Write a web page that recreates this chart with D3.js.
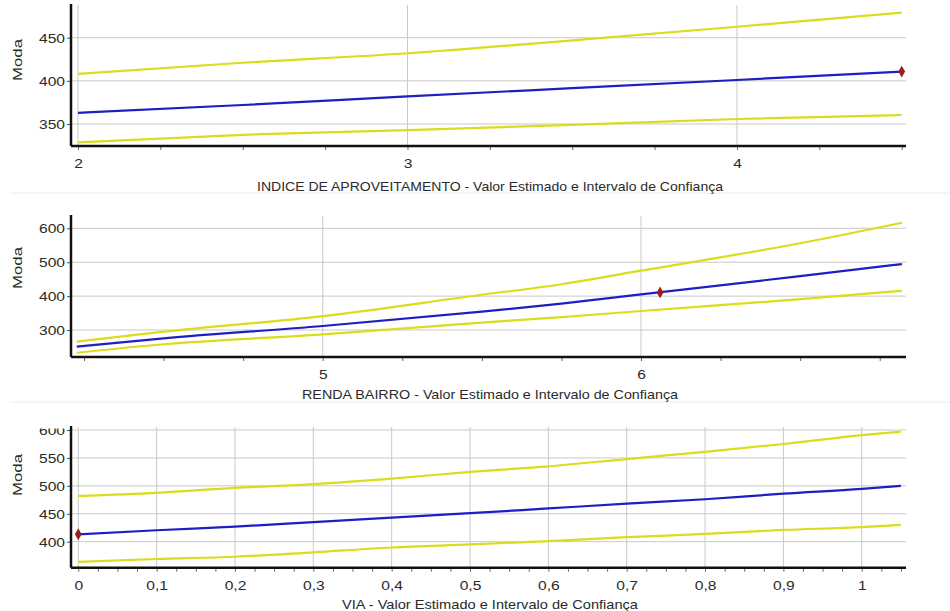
<!DOCTYPE html>
<html>
<head>
<meta charset="utf-8">
<script src="https://cdn.jsdelivr.net/npm/d3@7"></script>
<style>
  body { margin: 0; background: #fff; }
  svg { display: block; font-family: "Liberation Sans", Arial, sans-serif; }
  .tick text { fill: #2a2a2a; font-size: 13px; }
  .title { fill: #2a2a2a; font-size: 13.5px; }
</style>
</head>
<body>
<script>
'use strict';

// Panel 1 - INDICE DE APROVEITAMENTO
const iaX = [2, 2.5, 3, 3.5, 4, 4.5];
const iaEst = [363, 372, 382, 391.5, 401, 410.7];
const iaUpper = [408, 421, 432, 447, 462.7, 479];
const iaLower = [328.8, 337.5, 343, 349, 355.8, 360.4];
const iaPoint = [4.5, 410.7];
const iaYTicks = [350, 400, 450];
const iaXTicks = [2, 3, 4];

// Panel 2 - RENDA BAIRRO
const rbX = [4.227, 4.5, 5, 5.5, 5.75, 6, 6.5, 6.82];
const rbEst = [250.8, 275.5, 311.8, 354, 378, 405, 459, 494.5];
const rbUpper = [265.5, 295, 341, 404, 435, 475, 556, 616.5];
const rbLower = [233, 258, 287, 322, 338, 356, 391, 415.6];
const rbPoint = [6.06, 411];
const rbYTicks = [300, 400, 500, 600];
const rbXTicks = [5, 6];

// Panel 3 - VIA
const viaX = [0, 0.1, 0.2, 0.3, 0.4, 0.5, 0.6, 0.7, 0.8, 0.9, 1, 1.05];
const viaEst = [413, 420.5, 427, 435, 443, 451, 459.5, 468, 476, 486, 494.6, 500];
const viaUpper = [482, 487.5, 496.4, 503, 513, 525, 535, 548, 561, 575, 591, 597];
const viaLower = [364, 369, 373, 381, 389.6, 395, 401, 408, 414, 421, 426, 430];
const viaPoint = [0, 413.3];
const viaYTicks = [400, 450, 500, 550, 600];
const viaXTicks = [0, 0.1, 0.2, 0.3, 0.4, 0.5, 0.6, 0.7, 0.8, 0.9, 1];

const panels = [
  {
    x: iaX, est: iaEst, upper: iaUpper, lower: iaLower, point: iaPoint,
    xDomain: [1.9788, 4.513], yDomain: [324.5, 487.9], top: 5, bottom: 146,
    yTicks: iaYTicks, xTicks: iaXTicks, minor: 0.25, fmt: d3.format('d'),
    title: 'INDICE DE APROVEITAMENTO - Valor Estimado e Intervalo de Confiança', titleLen: 466, titleY: 191, modaY: 60
  },
  {
    x: rbX, est: rbEst, upper: rbUpper, lower: rbLower, point: rbPoint,
    xDomain: [4.209, 6.8326], yDomain: [220.4, 636.3], top: 216, bottom: 357,
    yTicks: rbYTicks, xTicks: rbXTicks, minor: 0.25, fmt: d3.format('d'),
    title: 'RENDA BAIRRO - Valor Estimado e Intervalo de Confiança', titleLen: 376, titleY: 398.5, modaY: 268
  },
  {
    x: viaX, est: viaEst, upper: viaUpper, lower: viaLower, point: viaPoint,
    xDomain: [-0.0093, 1.0565], yDomain: [353.4, 605.4], top: 427, bottom: 567.7,
    yTicks: viaYTicks, xTicks: viaXTicks, minor: 0.025, fmt: d => String(d).replace('.', ','),
    title: 'VIA - Valor Estimado e Intervalo de Confiança', titleLen: 296, titleY: 608.5, modaY: 475
  }
];

const left = 71, right = 906, titleX = 490;
const width = 950, height = 611;

const svg = d3.select('body').append('svg')
  .attr('width', width)
  .attr('height', height);

// the original text is drawn a bit wider than the font
const stretch = (sel, k) => sel.each(function () {
  const len = this.getComputedTextLength();
  d3.select(this).attr('textLength', len * k).attr('lengthAdjust', 'spacingAndGlyphs');
});

// separators between panels
[193, 402].forEach(y => {
  svg.append('line')
    .attr('x1', 10).attr('x2', 950)
    .attr('y1', y).attr('y2', y)
    .attr('stroke', '#ececec');
});

panels.forEach((p, i) => {
  const x = d3.scaleLinear().domain(p.xDomain).range([left, right]);
  const y = d3.scaleLinear().domain(p.yDomain).range([p.bottom, p.top]);

  const g = svg.append('g');

  const clipId = 'clip' + i;
  svg.append('clipPath').attr('id', clipId)
    .append('rect')
    .attr('x', left).attr('y', p.top)
    .attr('width', right - left).attr('height', p.bottom - p.top);

  // grid
  g.append('g').selectAll('line')
    .data(p.yTicks).enter().append('line')
    .attr('x1', left).attr('x2', right)
    .attr('y1', d => y(d)).attr('y2', d => y(d))
    .attr('stroke', '#c9c9c9');
  g.append('g').selectAll('line')
    .data(p.xTicks).enter().append('line')
    .attr('x1', d => x(d)).attr('x2', d => x(d))
    .attr('y1', p.top).attr('y2', p.bottom)
    .attr('stroke', '#c9c9c9');

  // series
  const line = d3.line()
    .x((d, j) => x(p.x[j]))
    .y(d => y(d))
    .curve(d3.curveMonotoneX);

  const series = g.append('g').attr('clip-path', `url(#${clipId})`);
  [[p.upper, '#dcdc1c'], [p.lower, '#dcdc1c'], [p.est, '#1e1ec4']].forEach(([vals, col]) => {
    series.append('path')
      .attr('d', line(vals))
      .attr('fill', 'none')
      .attr('stroke', col)
      .attr('stroke-width', 2.2);
  });

  g.append('path')
    .attr('d', d3.symbol(d3.symbolDiamond, 40)())
    .attr('transform', `translate(${x(p.point[0])},${y(p.point[1])})`)
    .attr('fill', '#9c1e1e');

  // y axis
  const yAxis = g.append('g')
    .attr('transform', `translate(${left},0)`)
    .call(d3.axisLeft(y).tickValues(p.yTicks).tickSize(4).tickPadding(2));
  yAxis.select('.domain').remove();
  yAxis.selectAll('.tick line').attr('stroke', '#555');
  yAxis.selectAll('.tick text').attr('dy', '0.36em').call(stretch, 1.2);

  // x axis, minor ticks then labels
  const minorTicks = d3.range(Math.ceil(p.xDomain[0] / p.minor), Math.floor(p.xDomain[1] / p.minor) + 1)
    .map(k => +(k * p.minor).toFixed(4));
  const xAxis = g.append('g')
    .attr('transform', `translate(0,${p.bottom})`)
    .call(d3.axisBottom(x).tickValues(minorTicks).tickSize(4).tickFormat(''));
  xAxis.select('.domain').remove();
  xAxis.selectAll('.tick line').attr('stroke', '#666');

  const xLabels = g.append('g')
    .attr('transform', `translate(0,${p.bottom})`)
    .call(d3.axisBottom(x).tickValues(p.xTicks).tickSize(0).tickPadding(13).tickFormat(p.fmt));
  xLabels.select('.domain').remove();
  xLabels.selectAll('.tick text').call(stretch, 1.2);

  // heavy axis lines
  g.append('line')
    .attr('x1', left).attr('x2', left)
    .attr('y1', p.top - 1).attr('y2', p.bottom)
    .attr('stroke', '#111').attr('stroke-width', 2.5);
  g.append('line')
    .attr('x1', left).attr('x2', right)
    .attr('y1', p.bottom).attr('y2', p.bottom)
    .attr('stroke', '#111').attr('stroke-width', 2.5);

  g.append('text')
    .attr('class', 'title')
    .attr('x', titleX).attr('y', p.titleY)
    .attr('text-anchor', 'middle')
    .attr('textLength', p.titleLen)
    .attr('lengthAdjust', 'spacingAndGlyphs')
    .text(p.title);

  g.append('text')
    .attr('class', 'title')
    .attr('transform', `translate(22,${p.modaY}) rotate(-90)`)
    .attr('text-anchor', 'middle')
    .attr('textLength', 42)
    .attr('lengthAdjust', 'spacingAndGlyphs')
    .text('Moda');
});

// the top of the last panel's "600" label is cut off in the original
svg.append('rect')
  .attr('x', 0).attr('y', 403).attr('width', 69.5).attr('height', 25.5)
  .attr('fill', '#fff');
</script>
</body>
</html>
